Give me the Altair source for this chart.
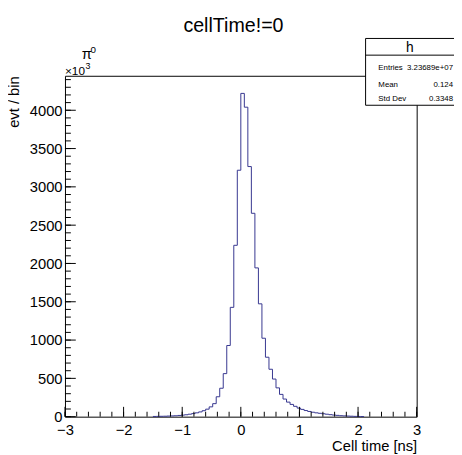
import altair as alt
import pandas as pd

# ---- data (counts in units of 10^3 per bin) ----
bin_width = 0.06
first_edge = -1.5
counts = [3, 4, 5, 6, 8, 10, 12, 16, 20, 25, 32, 40, 50,        # -1.50 .. -0.78
          62, 78, 98, 128, 170, 260, 371, 562, 929, 1427, 2237, 3217,  # -0.72 .. -0.06
          4220, 4040, 3265, 2655, 1942, 1473, 1024, 776, 619, 491,   # 0.00 .. 0.54
          376, 291, 230, 190, 160, 135, 112, 95, 80, 68, 58, 50, 44, 38,
          32, 26, 21, 17, 13, 10, 8, 6, 4, 3, 2]
edges = [round(first_edge + bin_width * i, 4) for i in range(len(counts) + 1)]
hist_df = pd.DataFrame({"t": edges, "c": counts + [0]})

x_major = [-3, -2, -1, 0, 1, 2, 3]
x_minor = [round(-3 + 0.2 * i, 2) for i in range(31)]
y_major = [0, 500, 1000, 1500, 2000, 2500, 3000, 3500, 4000]
y_minor = [100 * i for i in range(45)]

title_text = "cellTime!=0"
x_title = "Cell time [ns]"
y_title = "evt / bin"
stat_name = "h"
stat_labels = ["Entries", "Mean", "Std Dev"]
stat_values = ["3.23689e+07", "0.124", "0.3348"]

W, H = 358, 347
FONT = "Liberation Sans"
LINE = "#35358f"

xs = alt.Scale(domain=[-3, 3], nice=False, zero=False)
ys = alt.Scale(domain=[0, 4450], nice=False)

x_axis = alt.Axis(
    values=x_major, format="d", ticks=False, domain=False, grid=False, labelFontSize=15,
    labelFont=FONT, labelColor="black", labelPadding=6, labelFlush=False, title=x_title,
    titleFont=FONT, titleFontSize=15, titleFontWeight="normal", titleColor="black",
    titleX=W, titleY=34, titleAlign="right", titleBaseline="alphabetic")
y_axis = alt.Axis(
    values=y_major, format="d", ticks=False, domain=False, grid=False, labelFontSize=15,
    labelFont=FONT, labelColor="black", labelPadding=3, labelFlush=False, title=y_title,
    titleFont=FONT, titleFontSize=15, titleFontWeight="normal", titleColor="black",
    titleX=-52, titleY=0, titleAngle=270, titleAlign="right", titleBaseline="middle")

hist = alt.Chart(hist_df).mark_line(interpolate="step-after", color=LINE, strokeWidth=1).encode(
    x=alt.X("t:Q", scale=xs, axis=x_axis, title=x_title),
    y=alt.Y("c:Q", scale=ys, axis=y_axis, title=y_title),
)


def xticks(vals, length):
    return alt.Chart(pd.DataFrame({"t": vals})).mark_rule(color="black", strokeWidth=1).encode(
        x=alt.X("t:Q", scale=xs, axis=x_axis, title=x_title),
        y=alt.value(H), y2=alt.value(H - length))


def yticks(vals, length):
    return alt.Chart(pd.DataFrame({"c": vals})).mark_rule(color="black", strokeWidth=1).encode(
        y=alt.Y("c:Q", scale=ys, axis=y_axis, title=y_title),
        x=alt.value(0), x2=alt.value(length))


def label(txt, px, py, size, align="left", weight="normal"):
    return alt.Chart(pd.DataFrame({"s": [txt]})).mark_text(
        align=align, baseline="alphabetic", fontSize=size, font=FONT, color="black",
        fontWeight=weight).encode(text="s:N", x=alt.value(px), y=alt.value(py))


box = alt.Chart(pd.DataFrame({"s": [stat_name]})).mark_rect(
    fill="white", stroke="black", strokeWidth=1).encode(
    x=alt.value(306), x2=alt.value(400), y=alt.value(-38), y2=alt.value(30))
divider = alt.Chart(pd.DataFrame({"s": [stat_name]})).mark_rule(color="black", strokeWidth=1).encode(
    x=alt.value(306), x2=alt.value(400), y=alt.value(-21))

layers = [hist,
          xticks(x_minor, 5), xticks(x_major, 10),
          yticks(y_minor, 6), yticks(y_major, 11),
          label(title_text, 171.5, -45, 20, "center"),
          label("π", 17, -17, 15),
          label("0", 26, -23, 10),
          label("×10", 0, -1, 12),
          label("3", 21, -7, 9),
          box, divider,
          label(stat_name, 351, -24, 14, "center")]
rows_y = [-6, 11, 26]
for lab, val, yy in zip(stat_labels, stat_values, rows_y):
    layers.append(label(lab, 319, yy, 8))
    layers.append(label(val, 395, yy, 8, "right"))

chart = alt.layer(*layers).properties(
    width=W, height=H,
    background="white",
    autosize=alt.AutoSizeParams(type="none"),
    padding={"left": 58, "top": 65, "right": 38, "bottom": 34},
).configure_view(stroke="black", strokeWidth=1)

chart.save("out.html", embed_options={"renderer": "svg", "actions": False})
